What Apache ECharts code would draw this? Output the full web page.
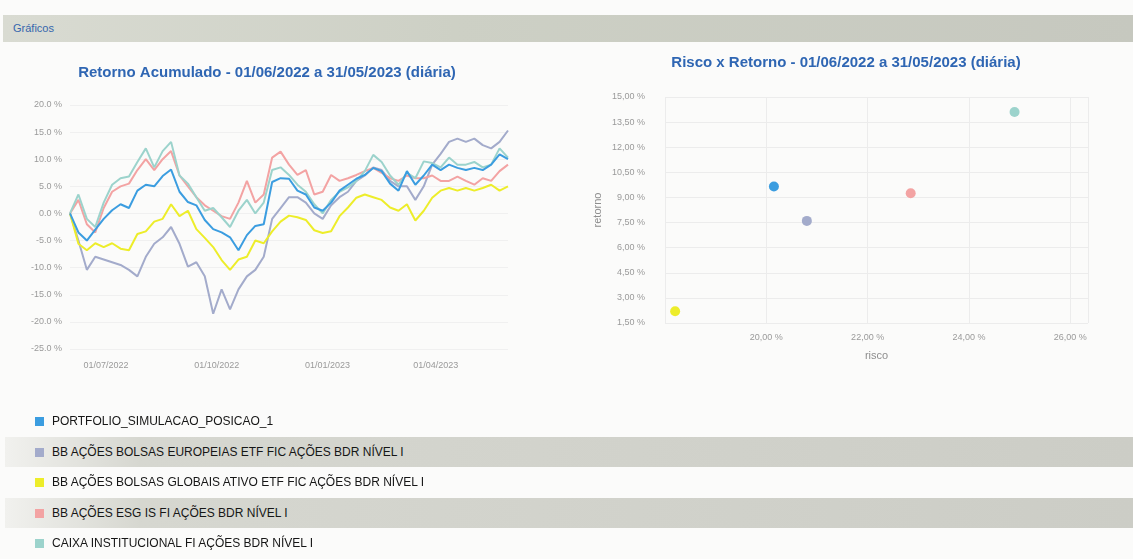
<!DOCTYPE html>
<html>
<head>
<meta charset="utf-8">
<script src="https://cdn.jsdelivr.net/npm/echarts@6/dist/echarts.min.js"></script>
<style>
  html, body { margin:0; padding:0; background:#fbfbfa; width:1133px; height:559px; overflow:hidden; font-family:"Liberation Sans", Arial, sans-serif; }
  #header { position:absolute; left:3px; top:15px; width:1130px; height:27px; line-height:27px;
            background:linear-gradient(to right, #d9dbd2 0%, #cdd0c5 40%, #c6c8bf 100%);
            color:#3566ad; font-size:11px; padding-left:10px; box-sizing:border-box; z-index:2; }
  #chart { position:absolute; left:0; top:0; width:1133px; height:559px; z-index:1; }
  .row { position:absolute; left:5px; width:1128px; height:30px; z-index:2; }
  .row.alt { background:linear-gradient(to right, #f1f1ee 0%, #d6d7d0 12%, #cccdc6 100%); }
  .mk { position:absolute; left:30px; top:11px; width:9px; height:9px; }
  .tx { position:absolute; left:47px; top:0; line-height:30px; font-size:12px; color:#161616; white-space:nowrap; }
</style>
</head>
<body>
<div id="header">Gráficos</div>
<div id="chart"></div>
<div id="legend"></div>
<script>
// ---- data ----
const seriesNames = [
  'PORTFOLIO_SIMULACAO_POSICAO_1',
  'BB AÇÕES BOLSAS EUROPEIAS ETF FIC AÇÕES BDR NÍVEL I',
  'BB AÇÕES BOLSAS GLOBAIS ATIVO ETF FIC AÇÕES BDR NÍVEL I',
  'BB AÇÕES ESG IS FI AÇÕES BDR NÍVEL I',
  'CAIXA INSTITUCIONAL FI AÇÕES BDR NÍVEL I'
];
const seriesColors = ['#3b9de0', '#a3abcb', '#eded2a', '#f3a3a3', '#9cd3cc'];

const dates = [
  '2022-06-01','2022-06-08','2022-06-15','2022-06-22','2022-06-29',
  '2022-07-06','2022-07-13','2022-07-20','2022-07-27',
  '2022-08-03','2022-08-10','2022-08-17','2022-08-24','2022-08-31',
  '2022-09-07','2022-09-14','2022-09-21','2022-09-28',
  '2022-10-05','2022-10-12','2022-10-19','2022-10-26',
  '2022-11-02','2022-11-09','2022-11-16','2022-11-23','2022-11-30',
  '2022-12-07','2022-12-14','2022-12-21','2022-12-28',
  '2023-01-04','2023-01-11','2023-01-18','2023-01-25',
  '2023-02-01','2023-02-08','2023-02-15','2023-02-22',
  '2023-03-01','2023-03-08','2023-03-15','2023-03-22','2023-03-29',
  '2023-04-05','2023-04-12','2023-04-19','2023-04-26',
  '2023-05-03','2023-05-10','2023-05-17','2023-05-24','2023-05-31'
];

const portfolio = [0,-3.5,-5,-3,-1,0.6,1.7,1.0,4.2,5.3,5.0,6.9,8.1,4.0,2.1,1.5,-1.2,-2.9,-3.5,-4.4,-6.8,-4.0,-2.3,-2.0,5.8,6.5,6.4,4.2,3.5,1.1,0.5,2.0,4.2,5.3,6.4,7.1,8.4,7.8,5.5,4.2,7.8,5.3,7.0,9.0,8.0,9.0,8.4,8.0,8.4,8.0,9.0,10.9,10.0];
const europeias = [0,-5,-10.4,-8,-8.5,-9,-9.5,-10.4,-11.6,-8,-5.6,-4.4,-2.5,-5.6,-9.8,-9.0,-11.6,-18.5,-14,-17.7,-14,-11.6,-10.4,-8,-1,1,3,3,2,0,-1,1.5,3,4,6,7,8.5,8,6,5,5,2.5,5,9,11,13.2,13.8,13.2,13.8,12.6,12,13.2,15.3];
const globais = [0,-5.6,-6.8,-5.5,-6.2,-5.5,-6.5,-6.8,-3.8,-3.3,-1.5,-1.0,1.7,-0.5,0.5,-2.9,-4.5,-6.2,-8.6,-10.4,-8.5,-8,-5.0,-5.5,-3.3,-1.5,-0.4,-0.7,-1.2,-3.1,-3.6,-3.3,-0.5,1.1,2.9,3.5,3.0,2.5,1.1,0.5,1.7,-1.3,0.5,2.9,4.2,4.7,4.2,4.7,4.2,4.7,5.3,4.2,5.0];
const esg = [0,2.5,-2,-3.5,1,4,5,5.5,8,10,8,10,11.5,7,5,3,1.5,0.5,-0.5,-1,2,6,2,3.5,10.3,11.4,9,7.1,8.0,3.5,4.0,7.1,6.0,6.5,7.1,7.8,8.4,7.5,6.5,6.0,7.0,6.5,6.5,7.0,6.0,6.0,6.8,6.0,5.3,6.5,6.0,7.8,9.0];
const caixa = [0,3.5,-1,-2.5,2,5.3,6.5,6.8,9.5,12,8.5,11.5,13.2,7,5.5,3,0.5,1,-0.7,-2.5,0.5,2.5,0,2,8,8.5,7.1,5.3,4,1.7,0,2.5,4,4.8,6,7.8,10.8,9.5,7,5.3,7.5,6.5,9.6,9.3,8.5,10.3,9,9,9.5,8.5,9,12,10.3];

const riskValues   = [20.15, 20.8, 18.2, 22.85, 24.9];
const returnValues = [9.65, 7.6, 2.2, 9.25, 14.1];

const dateTickLabels = ['2022-07-01', '2022-10-01', '2023-01-01', '2023-04-01'];
const riskTickLabels = [20, 22, 24, 26];

// ---- legend (HTML) ----
const legend = document.getElementById('legend');
seriesNames.forEach((n, i) => {
  const r = document.createElement('div');
  r.className = 'row' + (i % 2 === 1 ? ' alt' : '');
  r.style.top = (406 + i * 30.5) + 'px';
  r.innerHTML = '<span class="mk" style="background:' + seriesColors[i] + '"></span><span class="tx">' + n + '</span>';
  legend.appendChild(r);
});

// ---- chart ----
const lineValues = [portfolio, europeias, globais, esg, caixa];
const ts = d => Date.UTC(+d.slice(0, 4), +d.slice(5, 7) - 1, +d.slice(8, 10));
const pad = n => (n < 10 ? '0' : '') + n;

const chart = echarts.init(document.getElementById('chart'), null, { renderer: 'canvas' });
const series = [];
lineValues.forEach((vals, i) => {
  series.push({
    type: 'line', name: seriesNames[i], xAxisIndex: 0, yAxisIndex: 0,
    data: dates.map((d, j) => [ts(d), vals[j]]),
    showSymbol: false, symbol: 'none',
    lineStyle: { width: 2, color: seriesColors[i] }, itemStyle: { color: seriesColors[i] },
    z: i === 0 ? 3 : 2
  });
});
riskValues.forEach((r, i) => {
  series.push({
    type: 'scatter', name: seriesNames[i], xAxisIndex: 1, yAxisIndex: 1,
    data: [[r, returnValues[i]]], symbolSize: 10,
    itemStyle: { color: seriesColors[i], opacity: 1 }
  });
});

const axisLabelStyle = { color: '#9a9a9a', fontSize: 9, fontFamily: 'Liberation Sans' };
const titleStyle = { fontSize: 15, color: '#2f66b3', fontWeight: 'bold', fontFamily: 'Liberation Sans' };

chart.setOption({
  animation: false,
  backgroundColor: 'transparent',
  title: [
    { text: 'Retorno Acumulado - 01/06/2022 a 31/05/2023 (diária)', left: 262, textAlign: 'center', top: 60, textStyle: titleStyle },
    { text: 'Risco x Retorno - 01/06/2022 a 31/05/2023 (diária)', left: 841, textAlign: 'center', top: 50, textStyle: titleStyle }
  ],
  grid: [
    { left: 70, right: 625, top: 105, bottom: 210 },
    { left: 665, right: 45, top: 97, bottom: 236 }
  ],
  xAxis: [
    { type: 'value', gridIndex: 0, min: ts('2022-06-01'), max: ts('2023-05-31'),
      axisLine: { show: false }, axisTick: { show: false }, splitLine: { show: false },
      axisLabel: Object.assign({}, axisLabelStyle, {
        margin: 12, hideOverlap: false,
        customValues: dateTickLabels.map(ts),
        formatter: v => { const d = new Date(v); return pad(d.getUTCDate()) + '/' + pad(d.getUTCMonth() + 1) + '/' + d.getUTCFullYear(); }
      }) },
    { type: 'value', gridIndex: 1, min: 18, max: 26.35, interval: 2,
      name: 'risco', nameLocation: 'middle', nameGap: 27,
      nameTextStyle: { color: '#8e8e8e', fontSize: 11, fontFamily: 'Liberation Sans' },
      axisLine: { show: false }, axisTick: { show: false },
      splitLine: { show: true, lineStyle: { color: '#ececec' } },
      axisLabel: Object.assign({}, axisLabelStyle, {
        margin: 10,
        formatter: v => riskTickLabels.indexOf(Math.round(v * 100) / 100) >= 0 ? v.toFixed(2).replace('.', ',') + ' %' : ''
      }) }
  ],
  yAxis: [
    { type: 'value', gridIndex: 0, min: -25, max: 20, interval: 5,
      axisLine: { show: false }, axisTick: { show: false },
      splitLine: { show: true, lineStyle: { color: '#f0f0f0' } },
      axisLabel: Object.assign({}, axisLabelStyle, { margin: 8, formatter: v => v.toFixed(1) + ' %' }) },
    { type: 'value', gridIndex: 1, min: 1.5, max: 15, interval: 1.5,
      name: 'retorno', nameLocation: 'middle', nameGap: 62, nameRotate: 90,
      nameTextStyle: { color: '#8e8e8e', fontSize: 11, fontFamily: 'Liberation Sans' },
      axisLine: { show: false }, axisTick: { show: false },
      splitLine: { show: true, lineStyle: { color: '#ececec' } },
      axisLabel: Object.assign({}, axisLabelStyle, { margin: 20, formatter: v => v.toFixed(2).replace('.', ',') + ' %' }) }
  ],
  series: series
});
</script>
</body>
</html>
